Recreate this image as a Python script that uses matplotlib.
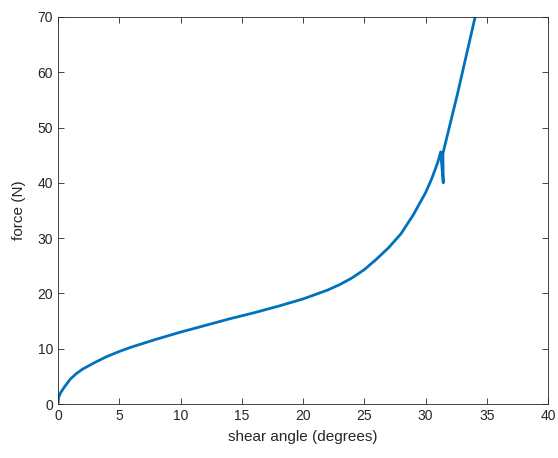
import matplotlib
matplotlib.use("Agg")
import matplotlib.pyplot as plt

angle = [0, 0.05, 0.2, 0.5, 1, 1.5, 2, 3, 4, 5, 6, 7, 8, 10, 12, 14, 16, 18, 20,
         22, 23, 24, 25, 26, 27, 28, 29, 30, 30.5, 31, 31.24, 31.45, 31.42,
         32.6, 34.05]
force = [0, 1.2, 2.0, 3.0, 4.5, 5.5, 6.3, 7.5, 8.6, 9.5, 10.3, 11.0, 11.7, 13.0, 14.2,
         15.4, 16.5, 17.7, 19.0, 20.6, 21.6, 22.8, 24.3, 26.2, 28.3, 30.8, 34.2, 38.2,
         40.7, 43.7, 45.6, 40.0, 45.3, 56.0, 70.0]

xticks = [0, 5, 10, 15, 20, 25, 30, 35, 40]
yticks = [0, 10, 20, 30, 40, 50, 60, 70]

plt.rcParams['font.family'] = ['Liberation Sans', 'DejaVu Sans']

fig = plt.figure(figsize=(5.58, 4.58), dpi=100)
ax = fig.add_axes([58/558, 1 - 404/458, (548-58)/558, (404-17)/458])
ax.plot(angle, force, color='#0072BD', linewidth=2.0)
ax.set_xlim(0, 40)
ax.set_ylim(0, 70)
ax.set_xticks(xticks)
ax.set_yticks(yticks)
ax.tick_params(direction='in', top=True, right=True, length=4, width=0.6,
               colors='#262626', labelsize=10, labelcolor='#262626')
for s in ax.spines.values():
    s.set_color('#262626')
    s.set_linewidth(0.6)
ax.set_xlabel('shear angle (degrees)', fontsize=11, color='#262626', labelpad=5)
ax.set_ylabel('force (N)', fontsize=11, color='#262626', labelpad=8)
fig.savefig('out.png', dpi=100)
